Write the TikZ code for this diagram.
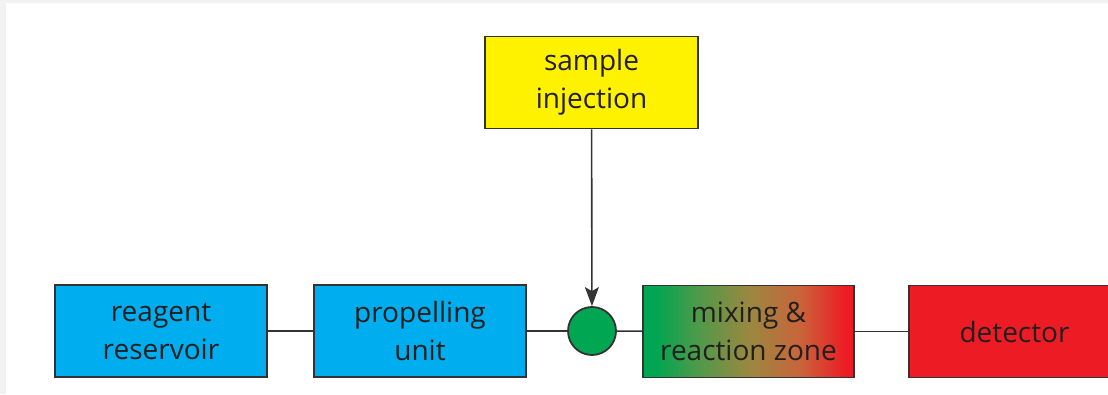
\documentclass[tikz,border=0pt]{standalone}
\usepackage{fontspec}
\setmainfont{Open Sans}
\usetikzlibrary{arrows.meta}
\definecolor{txt}{HTML}{231F20}
\definecolor{edge}{HTML}{333333}
\definecolor{cyanbox}{HTML}{00AEEF}
\definecolor{yellowbox}{HTML}{FFF200}
\definecolor{greenbox}{HTML}{00A651}
\definecolor{redbox}{HTML}{ED1C24}
\definecolor{zoneA}{HTML}{4E9A4A}
\definecolor{zoneB}{HTML}{9A8840}
\definecolor{zoneC}{HTML}{C8653A}
% green-to-red blend across the reaction zone (node spans 25bp..75bp)
\pgfdeclarehorizontalshading{zoneshade}{100bp}{%
  color(0bp)=(greenbox); color(28bp)=(greenbox); color(38bp)=(zoneA);
  color(50bp)=(zoneB); color(62bp)=(zoneC); color(73bp)=(redbox); color(100bp)=(redbox)}
\tikzset{
  unit/.style={draw=edge, line width=1.8pt, minimum width=212pt, minimum height=92pt,
    inner sep=0pt, align=center, text=txt,
    font=\fontsize{28}{38}\selectfont},
  junction/.style={circle, draw=edge, line width=1.8pt, fill=greenbox, minimum size=48pt, inner sep=0pt},
  link/.style={draw=edge, line width=1.6pt},
}
\begin{document}
\begin{tikzpicture}[x=1pt,y=1pt]
\useasboundingbox (0,0) rectangle (1108,394);
\clip (0,0) rectangle (1108,394);
% faint frame at the top and left
\fill[gray!10] (0,0) rectangle (6,394);
\fill[gray!10] (0,391) rectangle (1108,394);
\node[unit, fill=cyanbox] (reagent) at (161,63) {reagent\\reservoir};
\node[unit, fill=cyanbox] (prop) at (420,63) {propelling\\unit};
\node[junction] (mix) at (592,63) {};
\node[unit, minimum width=211pt, shading=zoneshade] (zone) at (748.5,62.5) {mixing \&\\reaction zone};
\node[unit, minimum width=211pt, fill=redbox] (det) at (1014.5,62.5) {detector};
\node[unit, minimum width=213pt, fill=yellowbox] (sample) at (591.5,311.5) {sample\\injection};
\draw[link] (reagent) -- (prop);
\draw[link] (prop) -- (mix);
\draw[link] (mix) -- (zone);
\draw[link] (zone) -- (det);
\draw[link, -{Stealth[length=19pt,width=14pt,inset=4pt]}] (sample) -- (mix);
\end{tikzpicture}
\end{document}
